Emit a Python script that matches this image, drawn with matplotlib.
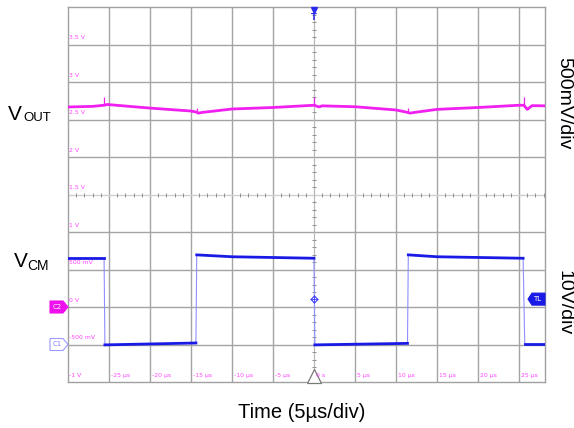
import matplotlib
matplotlib.use('Agg')
import matplotlib.pyplot as plt
import numpy as np
from matplotlib.patches import Polygon
from matplotlib.transforms import IdentityTransform

W, H = 574, 428

# ---------------- data ----------------
time_ticks_us = [-25, -20, -15, -10, -5, 0, 5, 10, 15, 20, 25]
time_labels = ['-25 µs', '-20 µs', '-15 µs', '-10 µs', '-5 µs', '0 s',
               '5 µs', '10 µs', '15 µs', '20 µs', '25 µs']
ch2_levels_v = [-1, -0.5, 0, 0.5, 1, 1.5, 2, 2.5, 3, 3.5]
ch2_labels = ['-1 V', '-500 mV', '0 V', '500 mV', '1 V', '1.5 V', '2 V',
              '2.5 V', '3 V', '3.5 V']

# VOUT (channel 2, 500 mV/div), time in µs, volts
vout_t = [-30.0, -27.0, -25.6, -25.2, -20.0, -15.0, -14.4, -14.1, -13.6,
          -10.0, -5.0, 0.0, 0.6, 1.0, 5.0, 10.0, 11.4, 11.7, 12.3, 15.0,
          20.0, 25.0, 25.6, 26.0, 26.6, 28.2]
vout_v = [2.667, 2.675, 2.690, 2.700, 2.652, 2.613, 2.600, 2.585, 2.595,
          2.640, 2.660, 2.690, 2.668, 2.682, 2.670, 2.627, 2.595, 2.585,
          2.595, 2.635, 2.660, 2.690, 2.690, 2.635, 2.685, 2.682]
# switching spikes on VOUT
spike_t = [-25.6, -14.3, 0.0, 11.5, 25.6]
spike_top_v = [2.80, 2.66, 2.80, 2.65, 2.80]

# VCM (channel 1, 10 V/div): flat segments between switching edges
vcm_seg_t = [[-30.0, -25.6], [-25.5, -14.4], [-14.3, -10.0, 0.0],
             [0.1, 11.4], [11.5, 15.0, 25.5], [25.7, 28.2]]
vcm_seg_v = [[23.0, 23.0], [-0.1, 0.4], [23.9, 23.4, 23.0],
             [-0.1, 0.3], [23.9, 23.4, 23.0], [0.1, 0.1]]
trigger_level_v = 12.1

# ---------------- figure ----------------
fig = plt.figure(figsize=(W / 100, H / 100), dpi=100)
fig.patch.set_facecolor('white')
ax = fig.add_axes([68 / W, 1 - 382 / H, 477 / W, 375 / H])
ax.set_xlim(-30, 28.17)
ax.set_ylim(0, 10)
ax.set_xticks([])
ax.set_yticks([])
for s in ax.spines.values():
    s.set_color('#a0a0a0')
    s.set_linewidth(1.0)

grid_c = '#a4a4a4'
for t in time_ticks_us:
    if t != 0:
        ax.axvline(t, color=grid_c, lw=1.0, zorder=1)
for d in range(1, 10):
    if d != 5:
        ax.axhline(d, color=grid_c, lw=1.0, zorder=1)
# centre cross with minor ticks
ax.axhline(5, color='#d0d0d0', lw=1.0, zorder=1)
ax.axvline(0, color='#b8b8b8', lw=0.9, zorder=1)
minor_t = [t for t in np.arange(-29, 29, 1.0) if abs(t) % 5 != 0]
ax.plot(minor_t, [5] * len(minor_t), ls='none', marker='|', ms=3,
        mew=0.7, color='#909090', zorder=2)
minor_d = [d for d in np.arange(0.2, 10, 0.2) if abs(d - round(d)) > 0.01]
ax.plot([0] * len(minor_d), minor_d, ls='none', marker='_', ms=3,
        mew=0.7, color='#909090', zorder=2)

ax_v = ax.twinx()
ax_v.set_ylim(-1, 4)
ax_v.axis('off')
ax_c = ax.twinx()
ax_c.set_ylim(-10, 90)
ax_c.axis('off')

lab_c = '#ff44ff'
for v, lab in zip(ch2_levels_v, ch2_labels):
    ax_v.text(-29.85, v + 0.09, lab, fontsize=4.4, color=lab_c,
              ha='left', va='center', zorder=3)
for t, lab in zip(time_ticks_us, time_labels):
    ax_v.text(t + 0.25, -1 + 0.09, lab, fontsize=4.4, color=lab_c,
              ha='left', va='center', zorder=3)

# traces
mag = '#f020f0'
ax_v.plot(vout_t, vout_v, color=mag, lw=2.0, zorder=5,
          solid_joinstyle='round')
ax_v.vlines(spike_t, [np.interp(t, vout_t, vout_v) for t in spike_t],
            spike_top_v, color=mag, lw=0.9, zorder=5)
blue = '#1a1ae6'
for i in range(len(vcm_seg_t) - 1):
    ax_c.plot([vcm_seg_t[i][-1], vcm_seg_t[i + 1][0]],
              [vcm_seg_v[i][-1], vcm_seg_v[i + 1][0]],
              color='#8f8fff', lw=0.8, zorder=4)
for ts, vs in zip(vcm_seg_t, vcm_seg_v):
    ax_c.plot(ts, vs, color=blue, lw=2.0, zorder=5)

# trigger markers
ax_c.plot([0], [trigger_level_v], marker='D', ms=3.5, mfc='white',
          mec='#3a3aff', mew=0.8, zorder=6)
ax_c.plot([0], [trigger_level_v], marker='+', ms=6, mec='#3a3aff',
          mew=0.6, zorder=6)
ax.plot([0], [9.93], marker='v', ms=5, color='#2a2aee', clip_on=False, zorder=7)
ax.text(0, 9.72, 'T', fontsize=6, color='#2a2aee', ha='center', va='center',
        fontweight='bold', zorder=7)
ax.plot([0], [0.17], marker='^', ms=10, mfc='white', mec='#7a7a7a', mew=0.9,
        clip_on=False, zorder=8)

fig.canvas.draw()
ident = IdentityTransform()


def flag(xy_list, fc, ec):
    p = Polygon(xy_list, closed=True, fc=fc, ec=ec, lw=0.8,
                transform=ident, zorder=10)
    fig.add_artist(p)


# C2 flag (channel 2 ground)
x0, y0 = ax_v.transData.transform((-30, 0))
flag([(x0 - 18, y0 - 6), (x0 - 5, y0 - 6), (x0, y0), (x0 - 5, y0 + 6),
      (x0 - 18, y0 + 6)], '#ee11ee', '#ee11ee')
fig.text((x0 - 11) / W, y0 / H, 'C2', fontsize=5, color='white',
         ha='center', va='center', zorder=11)
# C1 flag (channel 1 ground)
x1, y1 = ax_c.transData.transform((-30, 0))
flag([(x1 - 18, y1 - 6), (x1 - 5, y1 - 6), (x1, y1), (x1 - 5, y1 + 6),
      (x1 - 18, y1 + 6)], 'white', '#9a9aff')
fig.text((x1 - 11) / W, y1 / H, 'C1', fontsize=5, color='#8080ff',
         ha='center', va='center', zorder=11)
# TL flag (trigger level)
x2, y2 = ax_c.transData.transform((28.17, trigger_level_v))
flag([(x2, y2 - 6), (x2 - 13, y2 - 6), (x2 - 17, y2), (x2 - 13, y2 + 6),
      (x2, y2 + 6)], '#1a1ae6', '#1a1ae6')
fig.text((x2 - 8) / W, y2 / H, 'TL', fontsize=5, color='white',
         ha='center', va='center', zorder=11)

# outside annotations
fam = ['Liberation Sans', 'DejaVu Sans']
fig.text(8 / W, 1 - 120 / H, 'V', fontsize=15, family=fam, ha='left',
         va='baseline')
fig.text(23 / W, 1 - 121 / H, 'OUT', fontsize=9.5, family=fam, ha='left',
         va='baseline')
fig.text(14 / W, 1 - 267 / H, 'V', fontsize=15, family=fam, ha='left',
         va='baseline')
fig.text(27 / W, 1 - 270 / H, 'CM', fontsize=10, family=fam, ha='left',
         va='baseline')
fig.text(564 / W, 1 - 103 / H, '500mV/div', fontsize=14, family=fam,
         rotation=270, ha='center', va='center')
fig.text(564 / W, 1 - 303 / H, '10V/div', fontsize=14, family=fam,
         rotation=270, ha='center', va='center')
fig.text(302 / W, 1 - 413 / H, 'Time (5µs/div)', fontsize=14.5, family=fam,
         ha='center', va='center')

fig.savefig('out.png', dpi=100, facecolor='white')
